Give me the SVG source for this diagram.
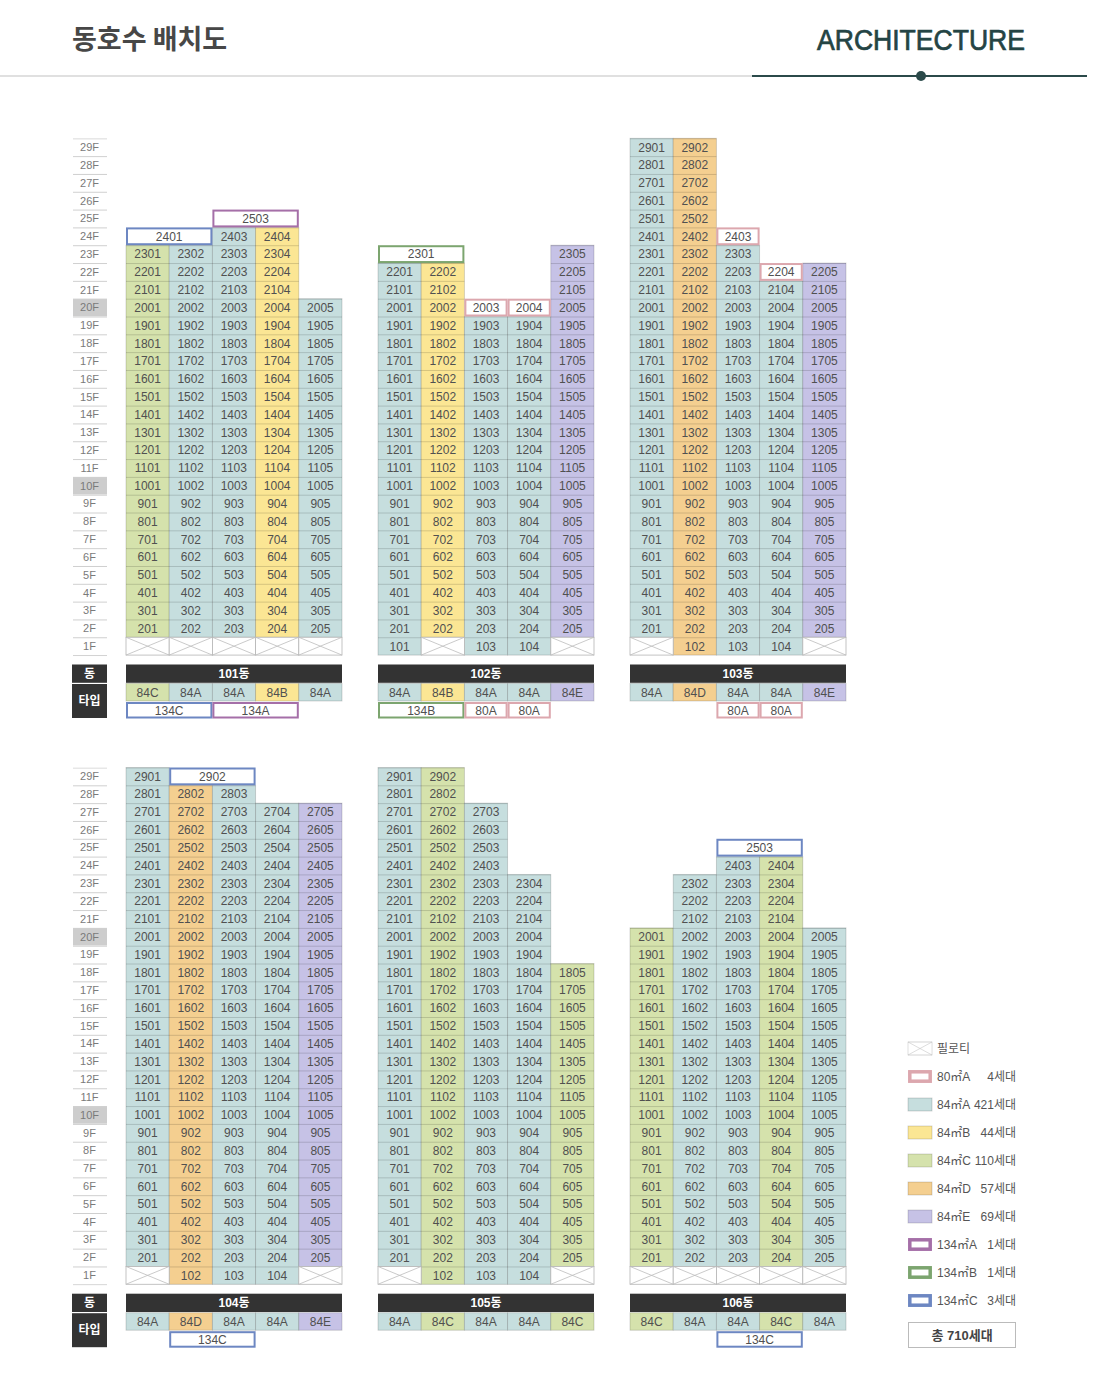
<svg xmlns="http://www.w3.org/2000/svg" xmlns:xlink="http://www.w3.org/1999/xlink" width="1100" height="1383" viewBox="0 0 1100 1383">
<style>
.n{font-family:"Liberation Sans",sans-serif;font-size:12px;fill:#505050;text-anchor:middle}
.fl{font-family:"Liberation Sans",sans-serif;font-size:11px;fill:#7a7a7a;text-anchor:middle}
.bt{font-family:"Liberation Sans","Noto Sans CJK KR",sans-serif;font-size:12px;font-weight:bold;fill:#fff;text-anchor:middle}
.lg{font-family:"Liberation Sans","Noto Sans CJK KR",sans-serif;font-size:12px;fill:#555}
.cA,.cB,.cC,.cD,.cE{stroke:#000;stroke-opacity:.17;stroke-width:.9}
.cA{fill:#c6dede}.cB{fill:#fbe694}.cC{fill:#d5e2ac}.cD{fill:#f4cf90}.cE{fill:#c6c2e6}
.ln{fill:url(#hl)}
.s80,.s134A,.s134B,.s134C{fill:#fff;stroke-width:2}
.s80{stroke:#dca7ae}.s134A{stroke:#a56fa8}.s134B{stroke:#7ca56f}.s134C{stroke:#6d87c2}
.lw{stroke-width:3.5}
.bar{fill:#333}
</style>
<defs>
<pattern id="hl" patternUnits="userSpaceOnUse" x="0" y="138.3" width="10" height="17.82"><rect width="10" height="0.9" fill="#000" fill-opacity="0.17"/></pattern>
<pattern id="fl" patternUnits="userSpaceOnUse" x="0" y="138.3" width="10" height="17.82"><rect width="10" height="1" fill="#cfcfcf"/></pattern>
<g id="pil"><rect width="43.2" height="17.82" fill="#fff" stroke="#b5b5b5" stroke-width=".8"/><path d="M0 0L43.2 17.82M0 17.82L43.2 0" stroke="#bdbdbd" stroke-width=".8" fill="none"/></g>
</defs>
<rect width="1100" height="1383" fill="#fff"/>

<g id="header">
<text x="72" y="49" font-family="Noto Sans CJK KR,sans-serif" font-size="27" font-weight="bold" fill="#474747">동호수 배치도</text>
<text x="817" y="50" font-family="Liberation Sans,sans-serif" font-size="29" fill="#244444" stroke="#244444" stroke-width="0.7" textLength="208" lengthAdjust="spacingAndGlyphs">ARCHITECTURE</text>
<line x1="0" y1="76" x2="752" y2="76" stroke="#e0e0e0" stroke-width="2"/>
<line x1="752" y1="76" x2="1087" y2="76" stroke="#2b4a4a" stroke-width="2"/>
<circle cx="921" cy="76" r="5" fill="#2b4a4a"/>
</g>

<g id="floors-top">
<rect x="73" y="298.9" width="34" height="17.4" fill="#cdcdcd"/>
<rect x="73" y="477.1" width="34" height="17.4" fill="#cdcdcd"/>
<rect x="73" y="138.3" width="34" height="518" fill="url(#fl)"/>
<text class="fl"><tspan x="89.5" y="151">29F</tspan><tspan x="89.5" y="168.8">28F</tspan><tspan x="89.5" y="186.6">27F</tspan><tspan x="89.5" y="204.5">26F</tspan><tspan x="89.5" y="222.3">25F</tspan><tspan x="89.5" y="240.1">24F</tspan><tspan x="89.5" y="257.9">23F</tspan><tspan x="89.5" y="275.7">22F</tspan><tspan x="89.5" y="293.6">21F</tspan><tspan x="89.5" y="311.4">20F</tspan><tspan x="89.5" y="329.2">19F</tspan><tspan x="89.5" y="347">18F</tspan><tspan x="89.5" y="364.8">17F</tspan><tspan x="89.5" y="382.7">16F</tspan><tspan x="89.5" y="400.5">15F</tspan><tspan x="89.5" y="418.3">14F</tspan><tspan x="89.5" y="436.1">13F</tspan><tspan x="89.5" y="453.9">12F</tspan><tspan x="89.5" y="471.8">11F</tspan><tspan x="89.5" y="489.6">10F</tspan><tspan x="89.5" y="507.4">9F</tspan><tspan x="89.5" y="525.2">8F</tspan><tspan x="89.5" y="543">7F</tspan><tspan x="89.5" y="560.9">6F</tspan><tspan x="89.5" y="578.7">5F</tspan><tspan x="89.5" y="596.5">4F</tspan><tspan x="89.5" y="614.3">3F</tspan><tspan x="89.5" y="632.1">2F</tspan><tspan x="89.5" y="650">1F</tspan></text>
<rect x="72" y="664.5" width="35" height="18.3" class="bar"/>
<rect x="72" y="684" width="35" height="34" class="bar"/>
<text class="bt" x="89.5" y="678">동</text>
<text class="bt" x="89.5" y="705">타입</text>
</g>

<g id="floors-bottom" transform="translate(0,629.2)">
<rect x="73" y="298.9" width="34" height="17.4" fill="#cdcdcd"/>
<rect x="73" y="477.1" width="34" height="17.4" fill="#cdcdcd"/>
<rect x="73" y="138.3" width="34" height="518" fill="url(#fl)"/>
<text class="fl"><tspan x="89.5" y="151">29F</tspan><tspan x="89.5" y="168.8">28F</tspan><tspan x="89.5" y="186.6">27F</tspan><tspan x="89.5" y="204.5">26F</tspan><tspan x="89.5" y="222.3">25F</tspan><tspan x="89.5" y="240.1">24F</tspan><tspan x="89.5" y="257.9">23F</tspan><tspan x="89.5" y="275.7">22F</tspan><tspan x="89.5" y="293.6">21F</tspan><tspan x="89.5" y="311.4">20F</tspan><tspan x="89.5" y="329.2">19F</tspan><tspan x="89.5" y="347">18F</tspan><tspan x="89.5" y="364.8">17F</tspan><tspan x="89.5" y="382.7">16F</tspan><tspan x="89.5" y="400.5">15F</tspan><tspan x="89.5" y="418.3">14F</tspan><tspan x="89.5" y="436.1">13F</tspan><tspan x="89.5" y="453.9">12F</tspan><tspan x="89.5" y="471.8">11F</tspan><tspan x="89.5" y="489.6">10F</tspan><tspan x="89.5" y="507.4">9F</tspan><tspan x="89.5" y="525.2">8F</tspan><tspan x="89.5" y="543">7F</tspan><tspan x="89.5" y="560.9">6F</tspan><tspan x="89.5" y="578.7">5F</tspan><tspan x="89.5" y="596.5">4F</tspan><tspan x="89.5" y="614.3">3F</tspan><tspan x="89.5" y="632.1">2F</tspan><tspan x="89.5" y="650">1F</tspan></text>
<rect x="72" y="664.5" width="35" height="18.3" class="bar"/>
<rect x="72" y="684" width="35" height="34" class="bar"/>
<text class="bt" x="89.5" y="678">동</text>
<text class="bt" x="89.5" y="705">타입</text>
</g>

<!-- 101 -->
<g id="b101" transform="translate(126,0)">
<rect class="cC" x="0" y="245.22" width="43.2" height="392.04"/>
<rect class="cA" x="43.2" y="245.22" width="43.2" height="392.04"/>
<rect class="cA" x="86.4" y="227.4" width="43.2" height="409.86"/>
<rect class="cB" x="129.6" y="227.4" width="43.2" height="409.86"/>
<rect class="cA" x="172.8" y="298.68" width="43.2" height="338.58"/>
<rect class="ln" x="0" y="245.22" width="86.4" height="392.04"/>
<rect class="ln" x="86.4" y="227.4" width="86.4" height="409.86"/>
<rect class="ln" x="172.8" y="298.68" width="43.2" height="338.58"/>
<rect class="s134C" x="1" y="228.4" width="84.4" height="15.82"/>
<rect class="s134A" x="87.4" y="210.58" width="84.4" height="15.82"/>
<use href="#pil" x="0" y="637.26"/><use href="#pil" x="43.2" y="637.26"/><use href="#pil" x="86.4" y="637.26"/><use href="#pil" x="129.6" y="637.26"/><use href="#pil" x="172.8" y="637.26"/>
<text class="n" y="222.8"><tspan x="129.6">2503</tspan></text>
<text class="n" y="240.6"><tspan x="43.2">2401</tspan><tspan x="108">2403</tspan><tspan x="151.2">2404</tspan></text>
<text class="n" y="258.4"><tspan x="21.6">2301</tspan><tspan x="64.8">2302</tspan><tspan x="108">2303</tspan><tspan x="151.2">2304</tspan></text>
<text class="n" y="276.2"><tspan x="21.6">2201</tspan><tspan x="64.8">2202</tspan><tspan x="108">2203</tspan><tspan x="151.2">2204</tspan></text>
<text class="n" y="294.1"><tspan x="21.6">2101</tspan><tspan x="64.8">2102</tspan><tspan x="108">2103</tspan><tspan x="151.2">2104</tspan></text>
<text class="n" y="311.9"><tspan x="21.6">2001</tspan><tspan x="64.8">2002</tspan><tspan x="108">2003</tspan><tspan x="151.2">2004</tspan><tspan x="194.4">2005</tspan></text>
<text class="n" y="329.7"><tspan x="21.6">1901</tspan><tspan x="64.8">1902</tspan><tspan x="108">1903</tspan><tspan x="151.2">1904</tspan><tspan x="194.4">1905</tspan></text>
<text class="n" y="347.5"><tspan x="21.6">1801</tspan><tspan x="64.8">1802</tspan><tspan x="108">1803</tspan><tspan x="151.2">1804</tspan><tspan x="194.4">1805</tspan></text>
<text class="n" y="365.3"><tspan x="21.6">1701</tspan><tspan x="64.8">1702</tspan><tspan x="108">1703</tspan><tspan x="151.2">1704</tspan><tspan x="194.4">1705</tspan></text>
<text class="n" y="383.2"><tspan x="21.6">1601</tspan><tspan x="64.8">1602</tspan><tspan x="108">1603</tspan><tspan x="151.2">1604</tspan><tspan x="194.4">1605</tspan></text>
<text class="n" y="401"><tspan x="21.6">1501</tspan><tspan x="64.8">1502</tspan><tspan x="108">1503</tspan><tspan x="151.2">1504</tspan><tspan x="194.4">1505</tspan></text>
<text class="n" y="418.8"><tspan x="21.6">1401</tspan><tspan x="64.8">1402</tspan><tspan x="108">1403</tspan><tspan x="151.2">1404</tspan><tspan x="194.4">1405</tspan></text>
<text class="n" y="436.6"><tspan x="21.6">1301</tspan><tspan x="64.8">1302</tspan><tspan x="108">1303</tspan><tspan x="151.2">1304</tspan><tspan x="194.4">1305</tspan></text>
<text class="n" y="454.4"><tspan x="21.6">1201</tspan><tspan x="64.8">1202</tspan><tspan x="108">1203</tspan><tspan x="151.2">1204</tspan><tspan x="194.4">1205</tspan></text>
<text class="n" y="472.3"><tspan x="21.6">1101</tspan><tspan x="64.8">1102</tspan><tspan x="108">1103</tspan><tspan x="151.2">1104</tspan><tspan x="194.4">1105</tspan></text>
<text class="n" y="490.1"><tspan x="21.6">1001</tspan><tspan x="64.8">1002</tspan><tspan x="108">1003</tspan><tspan x="151.2">1004</tspan><tspan x="194.4">1005</tspan></text>
<text class="n" y="507.9"><tspan x="21.6">901</tspan><tspan x="64.8">902</tspan><tspan x="108">903</tspan><tspan x="151.2">904</tspan><tspan x="194.4">905</tspan></text>
<text class="n" y="525.7"><tspan x="21.6">801</tspan><tspan x="64.8">802</tspan><tspan x="108">803</tspan><tspan x="151.2">804</tspan><tspan x="194.4">805</tspan></text>
<text class="n" y="543.5"><tspan x="21.6">701</tspan><tspan x="64.8">702</tspan><tspan x="108">703</tspan><tspan x="151.2">704</tspan><tspan x="194.4">705</tspan></text>
<text class="n" y="561.4"><tspan x="21.6">601</tspan><tspan x="64.8">602</tspan><tspan x="108">603</tspan><tspan x="151.2">604</tspan><tspan x="194.4">605</tspan></text>
<text class="n" y="579.2"><tspan x="21.6">501</tspan><tspan x="64.8">502</tspan><tspan x="108">503</tspan><tspan x="151.2">504</tspan><tspan x="194.4">505</tspan></text>
<text class="n" y="597"><tspan x="21.6">401</tspan><tspan x="64.8">402</tspan><tspan x="108">403</tspan><tspan x="151.2">404</tspan><tspan x="194.4">405</tspan></text>
<text class="n" y="614.8"><tspan x="21.6">301</tspan><tspan x="64.8">302</tspan><tspan x="108">303</tspan><tspan x="151.2">304</tspan><tspan x="194.4">305</tspan></text>
<text class="n" y="632.6"><tspan x="21.6">201</tspan><tspan x="64.8">202</tspan><tspan x="108">203</tspan><tspan x="151.2">204</tspan><tspan x="194.4">205</tspan></text>
<rect class="bar" x="0" y="664.5" width="216" height="18.3"/>
<text class="bt" x="108" y="678">101동</text>
<rect class="cC" x="0" y="683.5" width="43.2" height="17.5"/><rect class="cA" x="43.2" y="683.5" width="43.2" height="17.5"/><rect class="cA" x="86.4" y="683.5" width="43.2" height="17.5"/><rect class="cB" x="129.6" y="683.5" width="43.2" height="17.5"/><rect class="cA" x="172.8" y="683.5" width="43.2" height="17.5"/>
<text class="n" y="696.8"><tspan x="21.6">84C</tspan><tspan x="64.8">84A</tspan><tspan x="108">84A</tspan><tspan x="151.2">84B</tspan><tspan x="194.4">84A</tspan></text>
<rect class="s134C" x="1" y="703" width="84.4" height="14.5"/><rect class="s134A" x="87.4" y="703" width="84.4" height="14.5"/>
<text class="n" y="714.6"><tspan x="43.2">134C</tspan><tspan x="129.6">134A</tspan></text>
</g>

<!-- 102 -->
<g id="b102" transform="translate(378,0)">
<rect class="cA" x="0" y="263.04" width="43.2" height="392.04"/>
<rect class="cB" x="43.2" y="263.04" width="43.2" height="374.22"/>
<rect class="cA" x="86.4" y="316.5" width="43.2" height="338.58"/>
<rect class="cA" x="129.6" y="316.5" width="43.2" height="338.58"/>
<rect class="cE" x="172.8" y="245.22" width="43.2" height="392.04"/>
<rect class="ln" x="0" y="263.04" width="43.2" height="392.04"/>
<rect class="ln" x="43.2" y="263.04" width="43.2" height="374.22"/>
<rect class="ln" x="86.4" y="316.5" width="86.4" height="338.58"/>
<rect class="ln" x="172.8" y="245.22" width="43.2" height="392.04"/>
<rect class="s134B" x="1" y="246.22" width="84.4" height="15.82"/>
<rect class="s80" x="87.4" y="299.68" width="41.2" height="15.82"/>
<rect class="s80" x="130.6" y="299.68" width="41.2" height="15.82"/>
<use href="#pil" x="43.2" y="637.26"/><use href="#pil" x="172.8" y="637.26"/>
<text class="n" y="258.4"><tspan x="43.2">2301</tspan><tspan x="194.4">2305</tspan></text>
<text class="n" y="276.2"><tspan x="21.6">2201</tspan><tspan x="64.8">2202</tspan><tspan x="194.4">2205</tspan></text>
<text class="n" y="294.1"><tspan x="21.6">2101</tspan><tspan x="64.8">2102</tspan><tspan x="194.4">2105</tspan></text>
<text class="n" y="311.9"><tspan x="21.6">2001</tspan><tspan x="64.8">2002</tspan><tspan x="108">2003</tspan><tspan x="151.2">2004</tspan><tspan x="194.4">2005</tspan></text>
<text class="n" y="329.7"><tspan x="21.6">1901</tspan><tspan x="64.8">1902</tspan><tspan x="108">1903</tspan><tspan x="151.2">1904</tspan><tspan x="194.4">1905</tspan></text>
<text class="n" y="347.5"><tspan x="21.6">1801</tspan><tspan x="64.8">1802</tspan><tspan x="108">1803</tspan><tspan x="151.2">1804</tspan><tspan x="194.4">1805</tspan></text>
<text class="n" y="365.3"><tspan x="21.6">1701</tspan><tspan x="64.8">1702</tspan><tspan x="108">1703</tspan><tspan x="151.2">1704</tspan><tspan x="194.4">1705</tspan></text>
<text class="n" y="383.2"><tspan x="21.6">1601</tspan><tspan x="64.8">1602</tspan><tspan x="108">1603</tspan><tspan x="151.2">1604</tspan><tspan x="194.4">1605</tspan></text>
<text class="n" y="401"><tspan x="21.6">1501</tspan><tspan x="64.8">1502</tspan><tspan x="108">1503</tspan><tspan x="151.2">1504</tspan><tspan x="194.4">1505</tspan></text>
<text class="n" y="418.8"><tspan x="21.6">1401</tspan><tspan x="64.8">1402</tspan><tspan x="108">1403</tspan><tspan x="151.2">1404</tspan><tspan x="194.4">1405</tspan></text>
<text class="n" y="436.6"><tspan x="21.6">1301</tspan><tspan x="64.8">1302</tspan><tspan x="108">1303</tspan><tspan x="151.2">1304</tspan><tspan x="194.4">1305</tspan></text>
<text class="n" y="454.4"><tspan x="21.6">1201</tspan><tspan x="64.8">1202</tspan><tspan x="108">1203</tspan><tspan x="151.2">1204</tspan><tspan x="194.4">1205</tspan></text>
<text class="n" y="472.3"><tspan x="21.6">1101</tspan><tspan x="64.8">1102</tspan><tspan x="108">1103</tspan><tspan x="151.2">1104</tspan><tspan x="194.4">1105</tspan></text>
<text class="n" y="490.1"><tspan x="21.6">1001</tspan><tspan x="64.8">1002</tspan><tspan x="108">1003</tspan><tspan x="151.2">1004</tspan><tspan x="194.4">1005</tspan></text>
<text class="n" y="507.9"><tspan x="21.6">901</tspan><tspan x="64.8">902</tspan><tspan x="108">903</tspan><tspan x="151.2">904</tspan><tspan x="194.4">905</tspan></text>
<text class="n" y="525.7"><tspan x="21.6">801</tspan><tspan x="64.8">802</tspan><tspan x="108">803</tspan><tspan x="151.2">804</tspan><tspan x="194.4">805</tspan></text>
<text class="n" y="543.5"><tspan x="21.6">701</tspan><tspan x="64.8">702</tspan><tspan x="108">703</tspan><tspan x="151.2">704</tspan><tspan x="194.4">705</tspan></text>
<text class="n" y="561.4"><tspan x="21.6">601</tspan><tspan x="64.8">602</tspan><tspan x="108">603</tspan><tspan x="151.2">604</tspan><tspan x="194.4">605</tspan></text>
<text class="n" y="579.2"><tspan x="21.6">501</tspan><tspan x="64.8">502</tspan><tspan x="108">503</tspan><tspan x="151.2">504</tspan><tspan x="194.4">505</tspan></text>
<text class="n" y="597"><tspan x="21.6">401</tspan><tspan x="64.8">402</tspan><tspan x="108">403</tspan><tspan x="151.2">404</tspan><tspan x="194.4">405</tspan></text>
<text class="n" y="614.8"><tspan x="21.6">301</tspan><tspan x="64.8">302</tspan><tspan x="108">303</tspan><tspan x="151.2">304</tspan><tspan x="194.4">305</tspan></text>
<text class="n" y="632.6"><tspan x="21.6">201</tspan><tspan x="64.8">202</tspan><tspan x="108">203</tspan><tspan x="151.2">204</tspan><tspan x="194.4">205</tspan></text>
<text class="n" y="650.5"><tspan x="21.6">101</tspan><tspan x="108">103</tspan><tspan x="151.2">104</tspan></text>
<rect class="bar" x="0" y="664.5" width="216" height="18.3"/>
<text class="bt" x="108" y="678">102동</text>
<rect class="cA" x="0" y="683.5" width="43.2" height="17.5"/><rect class="cB" x="43.2" y="683.5" width="43.2" height="17.5"/><rect class="cA" x="86.4" y="683.5" width="43.2" height="17.5"/><rect class="cA" x="129.6" y="683.5" width="43.2" height="17.5"/><rect class="cE" x="172.8" y="683.5" width="43.2" height="17.5"/>
<text class="n" y="696.8"><tspan x="21.6">84A</tspan><tspan x="64.8">84B</tspan><tspan x="108">84A</tspan><tspan x="151.2">84A</tspan><tspan x="194.4">84E</tspan></text>
<rect class="s134B" x="1" y="703" width="84.4" height="14.5"/><rect class="s80" x="87.4" y="703" width="41.2" height="14.5"/><rect class="s80" x="130.6" y="703" width="41.2" height="14.5"/>
<text class="n" y="714.6"><tspan x="43.2">134B</tspan><tspan x="108">80A</tspan><tspan x="151.2">80A</tspan></text>
</g>

<!-- 103 -->
<g id="b103" transform="translate(630,0)">
<rect class="cA" x="0" y="138.3" width="43.2" height="498.96"/>
<rect class="cD" x="43.2" y="138.3" width="43.2" height="516.78"/>
<rect class="cA" x="86.4" y="245.22" width="43.2" height="409.86"/>
<rect class="cA" x="129.6" y="280.86" width="43.2" height="374.22"/>
<rect class="cE" x="172.8" y="263.04" width="43.2" height="374.22"/>
<rect class="ln" x="0" y="138.3" width="43.2" height="498.96"/>
<rect class="ln" x="43.2" y="138.3" width="43.2" height="516.78"/>
<rect class="ln" x="86.4" y="245.22" width="43.2" height="409.86"/>
<rect class="ln" x="129.6" y="280.86" width="43.2" height="374.22"/>
<rect class="ln" x="172.8" y="263.04" width="43.2" height="374.22"/>
<rect class="s80" x="87.4" y="228.4" width="41.2" height="15.82"/>
<rect class="s80" x="130.6" y="264.04" width="41.2" height="15.82"/>
<use href="#pil" x="0" y="637.26"/><use href="#pil" x="172.8" y="637.26"/>
<text class="n" y="151.5"><tspan x="21.6">2901</tspan><tspan x="64.8">2902</tspan></text>
<text class="n" y="169.3"><tspan x="21.6">2801</tspan><tspan x="64.8">2802</tspan></text>
<text class="n" y="187.1"><tspan x="21.6">2701</tspan><tspan x="64.8">2702</tspan></text>
<text class="n" y="205"><tspan x="21.6">2601</tspan><tspan x="64.8">2602</tspan></text>
<text class="n" y="222.8"><tspan x="21.6">2501</tspan><tspan x="64.8">2502</tspan></text>
<text class="n" y="240.6"><tspan x="21.6">2401</tspan><tspan x="64.8">2402</tspan><tspan x="108">2403</tspan></text>
<text class="n" y="258.4"><tspan x="21.6">2301</tspan><tspan x="64.8">2302</tspan><tspan x="108">2303</tspan></text>
<text class="n" y="276.2"><tspan x="21.6">2201</tspan><tspan x="64.8">2202</tspan><tspan x="108">2203</tspan><tspan x="151.2">2204</tspan><tspan x="194.4">2205</tspan></text>
<text class="n" y="294.1"><tspan x="21.6">2101</tspan><tspan x="64.8">2102</tspan><tspan x="108">2103</tspan><tspan x="151.2">2104</tspan><tspan x="194.4">2105</tspan></text>
<text class="n" y="311.9"><tspan x="21.6">2001</tspan><tspan x="64.8">2002</tspan><tspan x="108">2003</tspan><tspan x="151.2">2004</tspan><tspan x="194.4">2005</tspan></text>
<text class="n" y="329.7"><tspan x="21.6">1901</tspan><tspan x="64.8">1902</tspan><tspan x="108">1903</tspan><tspan x="151.2">1904</tspan><tspan x="194.4">1905</tspan></text>
<text class="n" y="347.5"><tspan x="21.6">1801</tspan><tspan x="64.8">1802</tspan><tspan x="108">1803</tspan><tspan x="151.2">1804</tspan><tspan x="194.4">1805</tspan></text>
<text class="n" y="365.3"><tspan x="21.6">1701</tspan><tspan x="64.8">1702</tspan><tspan x="108">1703</tspan><tspan x="151.2">1704</tspan><tspan x="194.4">1705</tspan></text>
<text class="n" y="383.2"><tspan x="21.6">1601</tspan><tspan x="64.8">1602</tspan><tspan x="108">1603</tspan><tspan x="151.2">1604</tspan><tspan x="194.4">1605</tspan></text>
<text class="n" y="401"><tspan x="21.6">1501</tspan><tspan x="64.8">1502</tspan><tspan x="108">1503</tspan><tspan x="151.2">1504</tspan><tspan x="194.4">1505</tspan></text>
<text class="n" y="418.8"><tspan x="21.6">1401</tspan><tspan x="64.8">1402</tspan><tspan x="108">1403</tspan><tspan x="151.2">1404</tspan><tspan x="194.4">1405</tspan></text>
<text class="n" y="436.6"><tspan x="21.6">1301</tspan><tspan x="64.8">1302</tspan><tspan x="108">1303</tspan><tspan x="151.2">1304</tspan><tspan x="194.4">1305</tspan></text>
<text class="n" y="454.4"><tspan x="21.6">1201</tspan><tspan x="64.8">1202</tspan><tspan x="108">1203</tspan><tspan x="151.2">1204</tspan><tspan x="194.4">1205</tspan></text>
<text class="n" y="472.3"><tspan x="21.6">1101</tspan><tspan x="64.8">1102</tspan><tspan x="108">1103</tspan><tspan x="151.2">1104</tspan><tspan x="194.4">1105</tspan></text>
<text class="n" y="490.1"><tspan x="21.6">1001</tspan><tspan x="64.8">1002</tspan><tspan x="108">1003</tspan><tspan x="151.2">1004</tspan><tspan x="194.4">1005</tspan></text>
<text class="n" y="507.9"><tspan x="21.6">901</tspan><tspan x="64.8">902</tspan><tspan x="108">903</tspan><tspan x="151.2">904</tspan><tspan x="194.4">905</tspan></text>
<text class="n" y="525.7"><tspan x="21.6">801</tspan><tspan x="64.8">802</tspan><tspan x="108">803</tspan><tspan x="151.2">804</tspan><tspan x="194.4">805</tspan></text>
<text class="n" y="543.5"><tspan x="21.6">701</tspan><tspan x="64.8">702</tspan><tspan x="108">703</tspan><tspan x="151.2">704</tspan><tspan x="194.4">705</tspan></text>
<text class="n" y="561.4"><tspan x="21.6">601</tspan><tspan x="64.8">602</tspan><tspan x="108">603</tspan><tspan x="151.2">604</tspan><tspan x="194.4">605</tspan></text>
<text class="n" y="579.2"><tspan x="21.6">501</tspan><tspan x="64.8">502</tspan><tspan x="108">503</tspan><tspan x="151.2">504</tspan><tspan x="194.4">505</tspan></text>
<text class="n" y="597"><tspan x="21.6">401</tspan><tspan x="64.8">402</tspan><tspan x="108">403</tspan><tspan x="151.2">404</tspan><tspan x="194.4">405</tspan></text>
<text class="n" y="614.8"><tspan x="21.6">301</tspan><tspan x="64.8">302</tspan><tspan x="108">303</tspan><tspan x="151.2">304</tspan><tspan x="194.4">305</tspan></text>
<text class="n" y="632.6"><tspan x="21.6">201</tspan><tspan x="64.8">202</tspan><tspan x="108">203</tspan><tspan x="151.2">204</tspan><tspan x="194.4">205</tspan></text>
<text class="n" y="650.5"><tspan x="64.8">102</tspan><tspan x="108">103</tspan><tspan x="151.2">104</tspan></text>
<rect class="bar" x="0" y="664.5" width="216" height="18.3"/>
<text class="bt" x="108" y="678">103동</text>
<rect class="cA" x="0" y="683.5" width="43.2" height="17.5"/><rect class="cD" x="43.2" y="683.5" width="43.2" height="17.5"/><rect class="cA" x="86.4" y="683.5" width="43.2" height="17.5"/><rect class="cA" x="129.6" y="683.5" width="43.2" height="17.5"/><rect class="cE" x="172.8" y="683.5" width="43.2" height="17.5"/>
<text class="n" y="696.8"><tspan x="21.6">84A</tspan><tspan x="64.8">84D</tspan><tspan x="108">84A</tspan><tspan x="151.2">84A</tspan><tspan x="194.4">84E</tspan></text>
<rect class="s80" x="87.4" y="703" width="41.2" height="14.5"/><rect class="s80" x="130.6" y="703" width="41.2" height="14.5"/>
<text class="n" y="714.6"><tspan x="108">80A</tspan><tspan x="151.2">80A</tspan></text>
</g>

<!-- 104 -->
<g id="b104" transform="translate(126,629.2)">
<rect class="cA" x="0" y="138.3" width="43.2" height="498.96"/>
<rect class="cD" x="43.2" y="156.12" width="43.2" height="498.96"/>
<rect class="cA" x="86.4" y="156.12" width="43.2" height="498.96"/>
<rect class="cA" x="129.6" y="173.94" width="43.2" height="481.14"/>
<rect class="cE" x="172.8" y="173.94" width="43.2" height="463.32"/>
<rect class="ln" x="0" y="138.3" width="43.2" height="498.96"/>
<rect class="ln" x="43.2" y="156.12" width="86.4" height="498.96"/>
<rect class="ln" x="129.6" y="173.94" width="43.2" height="481.14"/>
<rect class="ln" x="172.8" y="173.94" width="43.2" height="463.32"/>
<rect class="s134C" x="44.2" y="139.3" width="84.4" height="15.82"/>
<use href="#pil" x="0" y="637.26"/><use href="#pil" x="172.8" y="637.26"/>
<text class="n" y="151.5"><tspan x="21.6">2901</tspan><tspan x="86.4">2902</tspan></text>
<text class="n" y="169.3"><tspan x="21.6">2801</tspan><tspan x="64.8">2802</tspan><tspan x="108">2803</tspan></text>
<text class="n" y="187.1"><tspan x="21.6">2701</tspan><tspan x="64.8">2702</tspan><tspan x="108">2703</tspan><tspan x="151.2">2704</tspan><tspan x="194.4">2705</tspan></text>
<text class="n" y="205"><tspan x="21.6">2601</tspan><tspan x="64.8">2602</tspan><tspan x="108">2603</tspan><tspan x="151.2">2604</tspan><tspan x="194.4">2605</tspan></text>
<text class="n" y="222.8"><tspan x="21.6">2501</tspan><tspan x="64.8">2502</tspan><tspan x="108">2503</tspan><tspan x="151.2">2504</tspan><tspan x="194.4">2505</tspan></text>
<text class="n" y="240.6"><tspan x="21.6">2401</tspan><tspan x="64.8">2402</tspan><tspan x="108">2403</tspan><tspan x="151.2">2404</tspan><tspan x="194.4">2405</tspan></text>
<text class="n" y="258.4"><tspan x="21.6">2301</tspan><tspan x="64.8">2302</tspan><tspan x="108">2303</tspan><tspan x="151.2">2304</tspan><tspan x="194.4">2305</tspan></text>
<text class="n" y="276.2"><tspan x="21.6">2201</tspan><tspan x="64.8">2202</tspan><tspan x="108">2203</tspan><tspan x="151.2">2204</tspan><tspan x="194.4">2205</tspan></text>
<text class="n" y="294.1"><tspan x="21.6">2101</tspan><tspan x="64.8">2102</tspan><tspan x="108">2103</tspan><tspan x="151.2">2104</tspan><tspan x="194.4">2105</tspan></text>
<text class="n" y="311.9"><tspan x="21.6">2001</tspan><tspan x="64.8">2002</tspan><tspan x="108">2003</tspan><tspan x="151.2">2004</tspan><tspan x="194.4">2005</tspan></text>
<text class="n" y="329.7"><tspan x="21.6">1901</tspan><tspan x="64.8">1902</tspan><tspan x="108">1903</tspan><tspan x="151.2">1904</tspan><tspan x="194.4">1905</tspan></text>
<text class="n" y="347.5"><tspan x="21.6">1801</tspan><tspan x="64.8">1802</tspan><tspan x="108">1803</tspan><tspan x="151.2">1804</tspan><tspan x="194.4">1805</tspan></text>
<text class="n" y="365.3"><tspan x="21.6">1701</tspan><tspan x="64.8">1702</tspan><tspan x="108">1703</tspan><tspan x="151.2">1704</tspan><tspan x="194.4">1705</tspan></text>
<text class="n" y="383.2"><tspan x="21.6">1601</tspan><tspan x="64.8">1602</tspan><tspan x="108">1603</tspan><tspan x="151.2">1604</tspan><tspan x="194.4">1605</tspan></text>
<text class="n" y="401"><tspan x="21.6">1501</tspan><tspan x="64.8">1502</tspan><tspan x="108">1503</tspan><tspan x="151.2">1504</tspan><tspan x="194.4">1505</tspan></text>
<text class="n" y="418.8"><tspan x="21.6">1401</tspan><tspan x="64.8">1402</tspan><tspan x="108">1403</tspan><tspan x="151.2">1404</tspan><tspan x="194.4">1405</tspan></text>
<text class="n" y="436.6"><tspan x="21.6">1301</tspan><tspan x="64.8">1302</tspan><tspan x="108">1303</tspan><tspan x="151.2">1304</tspan><tspan x="194.4">1305</tspan></text>
<text class="n" y="454.4"><tspan x="21.6">1201</tspan><tspan x="64.8">1202</tspan><tspan x="108">1203</tspan><tspan x="151.2">1204</tspan><tspan x="194.4">1205</tspan></text>
<text class="n" y="472.3"><tspan x="21.6">1101</tspan><tspan x="64.8">1102</tspan><tspan x="108">1103</tspan><tspan x="151.2">1104</tspan><tspan x="194.4">1105</tspan></text>
<text class="n" y="490.1"><tspan x="21.6">1001</tspan><tspan x="64.8">1002</tspan><tspan x="108">1003</tspan><tspan x="151.2">1004</tspan><tspan x="194.4">1005</tspan></text>
<text class="n" y="507.9"><tspan x="21.6">901</tspan><tspan x="64.8">902</tspan><tspan x="108">903</tspan><tspan x="151.2">904</tspan><tspan x="194.4">905</tspan></text>
<text class="n" y="525.7"><tspan x="21.6">801</tspan><tspan x="64.8">802</tspan><tspan x="108">803</tspan><tspan x="151.2">804</tspan><tspan x="194.4">805</tspan></text>
<text class="n" y="543.5"><tspan x="21.6">701</tspan><tspan x="64.8">702</tspan><tspan x="108">703</tspan><tspan x="151.2">704</tspan><tspan x="194.4">705</tspan></text>
<text class="n" y="561.4"><tspan x="21.6">601</tspan><tspan x="64.8">602</tspan><tspan x="108">603</tspan><tspan x="151.2">604</tspan><tspan x="194.4">605</tspan></text>
<text class="n" y="579.2"><tspan x="21.6">501</tspan><tspan x="64.8">502</tspan><tspan x="108">503</tspan><tspan x="151.2">504</tspan><tspan x="194.4">505</tspan></text>
<text class="n" y="597"><tspan x="21.6">401</tspan><tspan x="64.8">402</tspan><tspan x="108">403</tspan><tspan x="151.2">404</tspan><tspan x="194.4">405</tspan></text>
<text class="n" y="614.8"><tspan x="21.6">301</tspan><tspan x="64.8">302</tspan><tspan x="108">303</tspan><tspan x="151.2">304</tspan><tspan x="194.4">305</tspan></text>
<text class="n" y="632.6"><tspan x="21.6">201</tspan><tspan x="64.8">202</tspan><tspan x="108">203</tspan><tspan x="151.2">204</tspan><tspan x="194.4">205</tspan></text>
<text class="n" y="650.5"><tspan x="64.8">102</tspan><tspan x="108">103</tspan><tspan x="151.2">104</tspan></text>
<rect class="bar" x="0" y="664.5" width="216" height="18.3"/>
<text class="bt" x="108" y="678">104동</text>
<rect class="cA" x="0" y="683.5" width="43.2" height="17.5"/><rect class="cD" x="43.2" y="683.5" width="43.2" height="17.5"/><rect class="cA" x="86.4" y="683.5" width="43.2" height="17.5"/><rect class="cA" x="129.6" y="683.5" width="43.2" height="17.5"/><rect class="cE" x="172.8" y="683.5" width="43.2" height="17.5"/>
<text class="n" y="696.8"><tspan x="21.6">84A</tspan><tspan x="64.8">84D</tspan><tspan x="108">84A</tspan><tspan x="151.2">84A</tspan><tspan x="194.4">84E</tspan></text>
<rect class="s134C" x="44.2" y="703" width="84.4" height="14.5"/>
<text class="n" y="714.6"><tspan x="86.4">134C</tspan></text>
</g>

<!-- 105 -->
<g id="b105" transform="translate(378,629.2)">
<rect class="cA" x="0" y="138.3" width="43.2" height="498.96"/>
<rect class="cC" x="43.2" y="138.3" width="43.2" height="516.78"/>
<rect class="cA" x="86.4" y="173.94" width="43.2" height="481.14"/>
<rect class="cA" x="129.6" y="245.22" width="43.2" height="409.86"/>
<rect class="cC" x="172.8" y="334.32" width="43.2" height="302.94"/>
<rect class="ln" x="0" y="138.3" width="43.2" height="498.96"/>
<rect class="ln" x="43.2" y="138.3" width="43.2" height="516.78"/>
<rect class="ln" x="86.4" y="173.94" width="43.2" height="481.14"/>
<rect class="ln" x="129.6" y="245.22" width="43.2" height="409.86"/>
<rect class="ln" x="172.8" y="334.32" width="43.2" height="302.94"/>
<use href="#pil" x="0" y="637.26"/><use href="#pil" x="172.8" y="637.26"/>
<text class="n" y="151.5"><tspan x="21.6">2901</tspan><tspan x="64.8">2902</tspan></text>
<text class="n" y="169.3"><tspan x="21.6">2801</tspan><tspan x="64.8">2802</tspan></text>
<text class="n" y="187.1"><tspan x="21.6">2701</tspan><tspan x="64.8">2702</tspan><tspan x="108">2703</tspan></text>
<text class="n" y="205"><tspan x="21.6">2601</tspan><tspan x="64.8">2602</tspan><tspan x="108">2603</tspan></text>
<text class="n" y="222.8"><tspan x="21.6">2501</tspan><tspan x="64.8">2502</tspan><tspan x="108">2503</tspan></text>
<text class="n" y="240.6"><tspan x="21.6">2401</tspan><tspan x="64.8">2402</tspan><tspan x="108">2403</tspan></text>
<text class="n" y="258.4"><tspan x="21.6">2301</tspan><tspan x="64.8">2302</tspan><tspan x="108">2303</tspan><tspan x="151.2">2304</tspan></text>
<text class="n" y="276.2"><tspan x="21.6">2201</tspan><tspan x="64.8">2202</tspan><tspan x="108">2203</tspan><tspan x="151.2">2204</tspan></text>
<text class="n" y="294.1"><tspan x="21.6">2101</tspan><tspan x="64.8">2102</tspan><tspan x="108">2103</tspan><tspan x="151.2">2104</tspan></text>
<text class="n" y="311.9"><tspan x="21.6">2001</tspan><tspan x="64.8">2002</tspan><tspan x="108">2003</tspan><tspan x="151.2">2004</tspan></text>
<text class="n" y="329.7"><tspan x="21.6">1901</tspan><tspan x="64.8">1902</tspan><tspan x="108">1903</tspan><tspan x="151.2">1904</tspan></text>
<text class="n" y="347.5"><tspan x="21.6">1801</tspan><tspan x="64.8">1802</tspan><tspan x="108">1803</tspan><tspan x="151.2">1804</tspan><tspan x="194.4">1805</tspan></text>
<text class="n" y="365.3"><tspan x="21.6">1701</tspan><tspan x="64.8">1702</tspan><tspan x="108">1703</tspan><tspan x="151.2">1704</tspan><tspan x="194.4">1705</tspan></text>
<text class="n" y="383.2"><tspan x="21.6">1601</tspan><tspan x="64.8">1602</tspan><tspan x="108">1603</tspan><tspan x="151.2">1604</tspan><tspan x="194.4">1605</tspan></text>
<text class="n" y="401"><tspan x="21.6">1501</tspan><tspan x="64.8">1502</tspan><tspan x="108">1503</tspan><tspan x="151.2">1504</tspan><tspan x="194.4">1505</tspan></text>
<text class="n" y="418.8"><tspan x="21.6">1401</tspan><tspan x="64.8">1402</tspan><tspan x="108">1403</tspan><tspan x="151.2">1404</tspan><tspan x="194.4">1405</tspan></text>
<text class="n" y="436.6"><tspan x="21.6">1301</tspan><tspan x="64.8">1302</tspan><tspan x="108">1303</tspan><tspan x="151.2">1304</tspan><tspan x="194.4">1305</tspan></text>
<text class="n" y="454.4"><tspan x="21.6">1201</tspan><tspan x="64.8">1202</tspan><tspan x="108">1203</tspan><tspan x="151.2">1204</tspan><tspan x="194.4">1205</tspan></text>
<text class="n" y="472.3"><tspan x="21.6">1101</tspan><tspan x="64.8">1102</tspan><tspan x="108">1103</tspan><tspan x="151.2">1104</tspan><tspan x="194.4">1105</tspan></text>
<text class="n" y="490.1"><tspan x="21.6">1001</tspan><tspan x="64.8">1002</tspan><tspan x="108">1003</tspan><tspan x="151.2">1004</tspan><tspan x="194.4">1005</tspan></text>
<text class="n" y="507.9"><tspan x="21.6">901</tspan><tspan x="64.8">902</tspan><tspan x="108">903</tspan><tspan x="151.2">904</tspan><tspan x="194.4">905</tspan></text>
<text class="n" y="525.7"><tspan x="21.6">801</tspan><tspan x="64.8">802</tspan><tspan x="108">803</tspan><tspan x="151.2">804</tspan><tspan x="194.4">805</tspan></text>
<text class="n" y="543.5"><tspan x="21.6">701</tspan><tspan x="64.8">702</tspan><tspan x="108">703</tspan><tspan x="151.2">704</tspan><tspan x="194.4">705</tspan></text>
<text class="n" y="561.4"><tspan x="21.6">601</tspan><tspan x="64.8">602</tspan><tspan x="108">603</tspan><tspan x="151.2">604</tspan><tspan x="194.4">605</tspan></text>
<text class="n" y="579.2"><tspan x="21.6">501</tspan><tspan x="64.8">502</tspan><tspan x="108">503</tspan><tspan x="151.2">504</tspan><tspan x="194.4">505</tspan></text>
<text class="n" y="597"><tspan x="21.6">401</tspan><tspan x="64.8">402</tspan><tspan x="108">403</tspan><tspan x="151.2">404</tspan><tspan x="194.4">405</tspan></text>
<text class="n" y="614.8"><tspan x="21.6">301</tspan><tspan x="64.8">302</tspan><tspan x="108">303</tspan><tspan x="151.2">304</tspan><tspan x="194.4">305</tspan></text>
<text class="n" y="632.6"><tspan x="21.6">201</tspan><tspan x="64.8">202</tspan><tspan x="108">203</tspan><tspan x="151.2">204</tspan><tspan x="194.4">205</tspan></text>
<text class="n" y="650.5"><tspan x="64.8">102</tspan><tspan x="108">103</tspan><tspan x="151.2">104</tspan></text>
<rect class="bar" x="0" y="664.5" width="216" height="18.3"/>
<text class="bt" x="108" y="678">105동</text>
<rect class="cA" x="0" y="683.5" width="43.2" height="17.5"/><rect class="cC" x="43.2" y="683.5" width="43.2" height="17.5"/><rect class="cA" x="86.4" y="683.5" width="43.2" height="17.5"/><rect class="cA" x="129.6" y="683.5" width="43.2" height="17.5"/><rect class="cC" x="172.8" y="683.5" width="43.2" height="17.5"/>
<text class="n" y="696.8"><tspan x="21.6">84A</tspan><tspan x="64.8">84C</tspan><tspan x="108">84A</tspan><tspan x="151.2">84A</tspan><tspan x="194.4">84C</tspan></text>
</g>

<!-- 106 -->
<g id="b106" transform="translate(630,629.2)">
<rect class="cC" x="0" y="298.68" width="43.2" height="338.58"/>
<rect class="cA" x="43.2" y="245.22" width="43.2" height="392.04"/>
<rect class="cA" x="86.4" y="227.4" width="43.2" height="409.86"/>
<rect class="cC" x="129.6" y="227.4" width="43.2" height="409.86"/>
<rect class="cA" x="172.8" y="298.68" width="43.2" height="338.58"/>
<rect class="ln" x="0" y="298.68" width="43.2" height="338.58"/>
<rect class="ln" x="43.2" y="245.22" width="43.2" height="392.04"/>
<rect class="ln" x="86.4" y="227.4" width="86.4" height="409.86"/>
<rect class="ln" x="172.8" y="298.68" width="43.2" height="338.58"/>
<rect class="s134C" x="87.4" y="210.58" width="84.4" height="15.82"/>
<use href="#pil" x="0" y="637.26"/><use href="#pil" x="43.2" y="637.26"/><use href="#pil" x="86.4" y="637.26"/><use href="#pil" x="129.6" y="637.26"/><use href="#pil" x="172.8" y="637.26"/>
<text class="n" y="222.8"><tspan x="129.6">2503</tspan></text>
<text class="n" y="240.6"><tspan x="108">2403</tspan><tspan x="151.2">2404</tspan></text>
<text class="n" y="258.4"><tspan x="64.8">2302</tspan><tspan x="108">2303</tspan><tspan x="151.2">2304</tspan></text>
<text class="n" y="276.2"><tspan x="64.8">2202</tspan><tspan x="108">2203</tspan><tspan x="151.2">2204</tspan></text>
<text class="n" y="294.1"><tspan x="64.8">2102</tspan><tspan x="108">2103</tspan><tspan x="151.2">2104</tspan></text>
<text class="n" y="311.9"><tspan x="21.6">2001</tspan><tspan x="64.8">2002</tspan><tspan x="108">2003</tspan><tspan x="151.2">2004</tspan><tspan x="194.4">2005</tspan></text>
<text class="n" y="329.7"><tspan x="21.6">1901</tspan><tspan x="64.8">1902</tspan><tspan x="108">1903</tspan><tspan x="151.2">1904</tspan><tspan x="194.4">1905</tspan></text>
<text class="n" y="347.5"><tspan x="21.6">1801</tspan><tspan x="64.8">1802</tspan><tspan x="108">1803</tspan><tspan x="151.2">1804</tspan><tspan x="194.4">1805</tspan></text>
<text class="n" y="365.3"><tspan x="21.6">1701</tspan><tspan x="64.8">1702</tspan><tspan x="108">1703</tspan><tspan x="151.2">1704</tspan><tspan x="194.4">1705</tspan></text>
<text class="n" y="383.2"><tspan x="21.6">1601</tspan><tspan x="64.8">1602</tspan><tspan x="108">1603</tspan><tspan x="151.2">1604</tspan><tspan x="194.4">1605</tspan></text>
<text class="n" y="401"><tspan x="21.6">1501</tspan><tspan x="64.8">1502</tspan><tspan x="108">1503</tspan><tspan x="151.2">1504</tspan><tspan x="194.4">1505</tspan></text>
<text class="n" y="418.8"><tspan x="21.6">1401</tspan><tspan x="64.8">1402</tspan><tspan x="108">1403</tspan><tspan x="151.2">1404</tspan><tspan x="194.4">1405</tspan></text>
<text class="n" y="436.6"><tspan x="21.6">1301</tspan><tspan x="64.8">1302</tspan><tspan x="108">1303</tspan><tspan x="151.2">1304</tspan><tspan x="194.4">1305</tspan></text>
<text class="n" y="454.4"><tspan x="21.6">1201</tspan><tspan x="64.8">1202</tspan><tspan x="108">1203</tspan><tspan x="151.2">1204</tspan><tspan x="194.4">1205</tspan></text>
<text class="n" y="472.3"><tspan x="21.6">1101</tspan><tspan x="64.8">1102</tspan><tspan x="108">1103</tspan><tspan x="151.2">1104</tspan><tspan x="194.4">1105</tspan></text>
<text class="n" y="490.1"><tspan x="21.6">1001</tspan><tspan x="64.8">1002</tspan><tspan x="108">1003</tspan><tspan x="151.2">1004</tspan><tspan x="194.4">1005</tspan></text>
<text class="n" y="507.9"><tspan x="21.6">901</tspan><tspan x="64.8">902</tspan><tspan x="108">903</tspan><tspan x="151.2">904</tspan><tspan x="194.4">905</tspan></text>
<text class="n" y="525.7"><tspan x="21.6">801</tspan><tspan x="64.8">802</tspan><tspan x="108">803</tspan><tspan x="151.2">804</tspan><tspan x="194.4">805</tspan></text>
<text class="n" y="543.5"><tspan x="21.6">701</tspan><tspan x="64.8">702</tspan><tspan x="108">703</tspan><tspan x="151.2">704</tspan><tspan x="194.4">705</tspan></text>
<text class="n" y="561.4"><tspan x="21.6">601</tspan><tspan x="64.8">602</tspan><tspan x="108">603</tspan><tspan x="151.2">604</tspan><tspan x="194.4">605</tspan></text>
<text class="n" y="579.2"><tspan x="21.6">501</tspan><tspan x="64.8">502</tspan><tspan x="108">503</tspan><tspan x="151.2">504</tspan><tspan x="194.4">505</tspan></text>
<text class="n" y="597"><tspan x="21.6">401</tspan><tspan x="64.8">402</tspan><tspan x="108">403</tspan><tspan x="151.2">404</tspan><tspan x="194.4">405</tspan></text>
<text class="n" y="614.8"><tspan x="21.6">301</tspan><tspan x="64.8">302</tspan><tspan x="108">303</tspan><tspan x="151.2">304</tspan><tspan x="194.4">305</tspan></text>
<text class="n" y="632.6"><tspan x="21.6">201</tspan><tspan x="64.8">202</tspan><tspan x="108">203</tspan><tspan x="151.2">204</tspan><tspan x="194.4">205</tspan></text>
<rect class="bar" x="0" y="664.5" width="216" height="18.3"/>
<text class="bt" x="108" y="678">106동</text>
<rect class="cC" x="0" y="683.5" width="43.2" height="17.5"/><rect class="cA" x="43.2" y="683.5" width="43.2" height="17.5"/><rect class="cA" x="86.4" y="683.5" width="43.2" height="17.5"/><rect class="cC" x="129.6" y="683.5" width="43.2" height="17.5"/><rect class="cA" x="172.8" y="683.5" width="43.2" height="17.5"/>
<text class="n" y="696.8"><tspan x="21.6">84C</tspan><tspan x="64.8">84A</tspan><tspan x="108">84A</tspan><tspan x="151.2">84C</tspan><tspan x="194.4">84A</tspan></text>
<rect class="s134C" x="87.4" y="703" width="84.4" height="14.5"/>
<text class="n" y="714.6"><tspan x="129.6">134C</tspan></text>
</g>

<g id="legend">
<use href="#pil" transform="translate(908,1042) scale(0.556,0.73)"/>
<rect class="s80 lw" x="909.8" y="1071.8" width="20.4" height="9.4"/>
<rect class="cA" x="908" y="1098" width="24" height="13"/>
<rect class="cB" x="908" y="1126" width="24" height="13"/>
<rect class="cC" x="908" y="1154" width="24" height="13"/>
<rect class="cD" x="908" y="1182" width="24" height="13"/>
<rect class="cE" x="908" y="1210" width="24" height="13"/>
<rect class="s134A lw" x="909.8" y="1239.8" width="20.4" height="9.4"/>
<rect class="s134B lw" x="909.8" y="1267.8" width="20.4" height="9.4"/>
<rect class="s134C lw" x="909.8" y="1295.8" width="20.4" height="9.4"/>
<text class="lg" x="937" y="1053">필로티</text>
<text class="lg" x="937" y="1081">80㎡A</text>
<text class="lg" x="937" y="1109">84㎡A</text>
<text class="lg" x="937" y="1137">84㎡B</text>
<text class="lg" x="937" y="1165">84㎡C</text>
<text class="lg" x="937" y="1193">84㎡D</text>
<text class="lg" x="937" y="1221">84㎡E</text>
<text class="lg" x="937" y="1249">134㎡A</text>
<text class="lg" x="937" y="1277">134㎡B</text>
<text class="lg" x="937" y="1305">134㎡C</text>
<g class="lg" text-anchor="end">
<text x="1016" y="1081">4세대</text>
<text x="1016" y="1109">421세대</text>
<text x="1016" y="1137">44세대</text>
<text x="1016" y="1165">110세대</text>
<text x="1016" y="1193">57세대</text>
<text x="1016" y="1221">69세대</text>
<text x="1016" y="1249">1세대</text>
<text x="1016" y="1277">1세대</text>
<text x="1016" y="1305">3세대</text>
</g>
<rect x="908.5" y="1322.5" width="107" height="25" fill="#fff" stroke="#bbb" stroke-width="1"/>
<text x="962" y="1340" text-anchor="middle" font-family="Liberation Sans,Noto Sans CJK KR,sans-serif" font-size="13" font-weight="bold" fill="#444">총 710세대</text>
</g>
</svg>
